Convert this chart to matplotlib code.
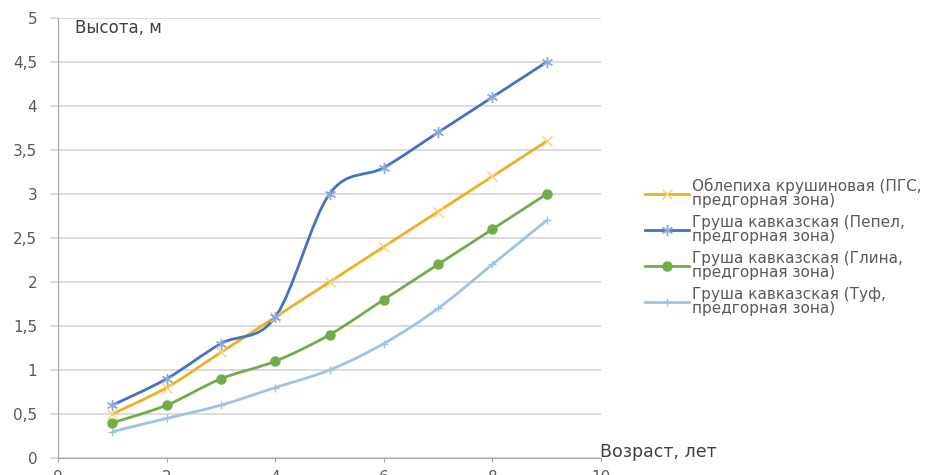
import numpy as np
import matplotlib
matplotlib.use("Agg")
import matplotlib.pyplot as plt
from matplotlib.path import Path
from matplotlib.patches import PathPatch
from matplotlib.lines import Line2D
from matplotlib.ticker import FuncFormatter

# Age of the trees (years) and height (m) for each planting
age = [1, 2, 3, 4, 5, 6, 7, 8, 9]
sea_buckthorn_pgs = [0.5, 0.8, 1.2, 1.6, 2.0, 2.4, 2.8, 3.2, 3.6]
pear_ash = [0.6, 0.9, 1.3, 1.6, 3.0, 3.3, 3.7, 4.1, 4.5]
pear_clay = [0.4, 0.6, 0.9, 1.1, 1.4, 1.8, 2.2, 2.6, 3.0]
pear_tuff = [0.3, 0.45, 0.6, 0.8, 1.0, 1.3, 1.7, 2.2, 2.7]

labels = [
    "Облепиха крушиновая (ПГС,\nпредгорная зона)",
    "Груша кавказская (Пепел,\nпредгорная зона)",
    "Груша кавказская (Глина,\nпредгорная зона)",
    "Груша кавказская (Туф,\nпредгорная зона)",
]
x_ticks = [0, 2, 4, 6, 8, 10]
y_ticks = [0, 0.5, 1, 1.5, 2, 2.5, 3, 3.5, 4, 4.5, 5]

plt.rcParams["font.family"] = ["DejaVu Sans"]
TEXT = "#595959"
FS = 11


def smooth_path(xs, ys):
    # Bezier curve through the points, like a spreadsheet "smoothed line"
    pts = np.column_stack([xs, ys]).astype(float)
    n = len(pts)
    verts = [pts[0]]
    codes = [Path.MOVETO]
    for i in range(n - 1):
        p0 = pts[i - 1] if i > 0 else pts[i]
        p1 = pts[i]
        p2 = pts[i + 1]
        p3 = pts[i + 2] if i + 2 < n else pts[i + 1]
        c1 = p1 + (p2 - p0) / 6.0
        c2 = p2 - (p3 - p1) / 6.0
        verts += [c1, c2, p2]
        codes += [Path.CURVE4] * 3
    return Path(verts, codes)


fig = plt.figure(figsize=(9.51, 4.75), dpi=100)
ax = fig.add_axes([58 / 951, 17 / 475, 543 / 951, 440 / 475])

series = [
    (sea_buckthorn_pgs, "#EDB021", "#F5CF7A", "x", 7, 1.0),
    (pear_ash, "#4472C4", "#8EA9DB", (6, 2, 0), 8, 1.0),
    (pear_clay, "#70AD47", "#70AD47", "o", 6.5, 1.0),
    (pear_tuff, "#9DC3E6", "#9DC3E6", "+", 6, 1.0),
]

handles = []
for ys, color, mcolor, marker, ms, mew in series:
    ax.add_patch(PathPatch(smooth_path(age, ys), facecolor="none",
                           edgecolor=color, lw=2.0, zorder=3))
    ax.plot(age, ys, ls="none", marker=marker, ms=ms, mew=mew,
            color=mcolor, mfc=mcolor, mec=mcolor, zorder=4)
    handles.append(Line2D([], [], color=color, lw=2.0, marker=marker,
                          ms=ms, mew=mew, mfc=mcolor, mec=mcolor))

ax.set_xlim(0, 10)
ax.set_ylim(0, 5)
ax.set_xticks(x_ticks)
ax.set_yticks(y_ticks)
ax.yaxis.set_major_formatter(FuncFormatter(lambda v, _: f"{v:g}".replace(".", ",")))
ax.grid(axis="y", color="#D9D9D9", lw=1.3, zorder=0)
ax.set_axisbelow(True)

for side in ["top", "right"]:
    ax.spines[side].set_visible(False)
ax.spines["left"].set_color("#A6A6A6")
ax.spines["bottom"].set_color("#A6A6A6")
ax.tick_params(axis="y", length=6, width=1.3, color="#D9D9D9", labelsize=FS,
               labelcolor=TEXT, pad=9)
ax.tick_params(axis="x", length=3, color="#A6A6A6", labelsize=FS,
               labelcolor=TEXT, pad=5.5)

ax.text(0.31, 4.89, "Высота, м", fontsize=12, color="#404040",
        ha="left", va="center")
ax.text(9.98, 0.07, "Возраст, лет", fontsize=12.5, color="#404040",
        ha="left", va="center", clip_on=False)

leg = ax.legend(handles, labels, loc="center left",
                bbox_to_anchor=(645 / 951, 1 - 247 / 475),
                bbox_transform=fig.transFigure, frameon=False, fontsize=FS,
                handlelength=2.85, handletextpad=0.2, labelspacing=0.46,
                labelcolor=TEXT, borderaxespad=0, borderpad=0)
for t in leg.get_texts():
    t.set_linespacing(0.92)

fig.savefig("out.png", dpi=100)
